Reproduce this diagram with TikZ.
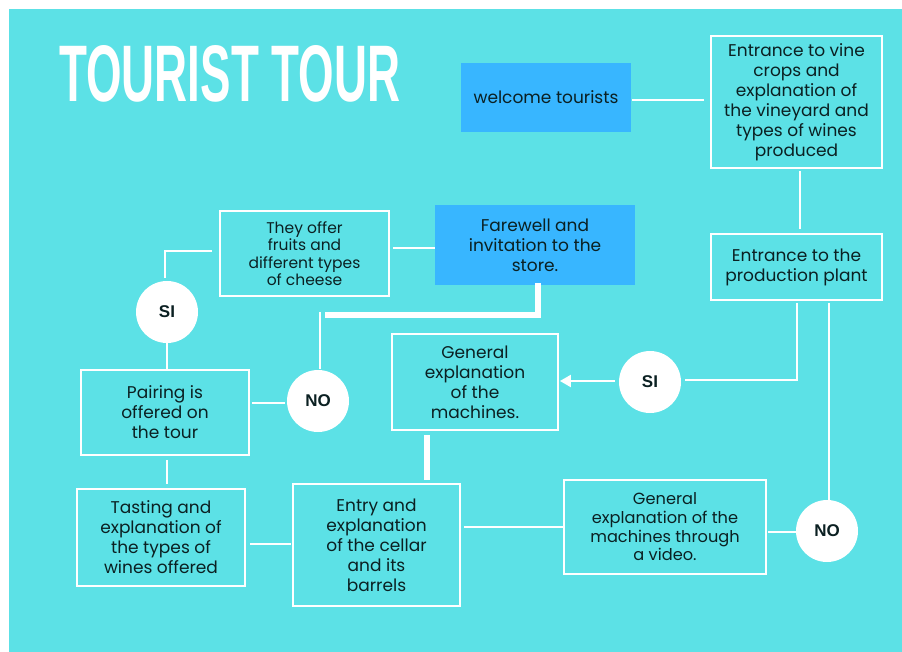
\documentclass[tikz,border=0pt]{standalone}
\usepackage{fontspec}
\usepackage{graphicx}
\setmainfont{Poppins}
\newfontfamily\arialfont{Liberation Sans}
\usetikzlibrary{arrows.meta,calc}
\definecolor{bgcyan}{HTML}{5CE1E6}
\definecolor{boxblue}{HTML}{38B6FF}
\definecolor{ink}{HTML}{0B2022}
\begin{document}
\begin{tikzpicture}[x=1pt,y=-1pt,
  flowbox/.style={draw=white,line width=1.8pt,inner sep=0pt,align=center,text=ink,
    font=\fontsize{17}{20}\selectfont},
  bluebox/.style={fill=boxblue,inner sep=0pt,align=center,text=ink,
    font=\fontsize{17}{20}\selectfont},
  decision/.style={circle,fill=white,minimum size=62pt,inner sep=0pt,text=ink,
    font=\arialfont\bfseries\fontsize{17}{17}\selectfont},
  link/.style={white,line width=2pt},
  thicklink/.style={white,line width=6pt}]
\useasboundingbox (0,0) rectangle (902,652);
\fill[white] (0,0) rectangle (902,652);
\fill[bgcyan] (9,9) rectangle (902,652);

\node[anchor=north west,inner sep=0pt,text=white] (title) at (59,45)
  {\resizebox{341pt}{56pt}{\arialfont\bfseries TOURIST TOUR}};

% boxes
\node[bluebox,minimum width=170pt,minimum height=69pt] (welcome) at (546,97.5) {welcome tourists};
\node[flowbox,minimum width=171pt,minimum height=132pt] (vine) at (796.5,102)
  {Entrance to vine\\crops and\\explanation of\\the vineyard and\\types of wines\\produced};
\node[flowbox,minimum width=171pt,minimum height=66pt] (plant) at (796.5,267)
  {Entrance to the\\production plant};
\node[bluebox,minimum width=200pt,minimum height=80pt] (farewell) at (535,245)
  {Farewell and\\invitation to the\\store.};
\node[flowbox,minimum width=169pt,minimum height=85pt,font=\fontsize{15.5}{17.5}\selectfont] (offer) at (304.5,253.5)
  {They offer\\fruits and\\different types\\of cheese};
\node[flowbox,minimum width=168pt,minimum height=85pt] (pairing) at (165,412.5)
  {Pairing is\\offered on\\the tour};
\node[flowbox,minimum width=168pt,minimum height=97pt] (tasting) at (161,537.5)
  {Tasting and\\explanation of\\the types of\\wines offered};
\node[flowbox,minimum width=167pt,minimum height=122pt] (entry) at (376.5,545)
  {Entry and\\explanation\\of the cellar\\and its\\barrels};
\node[flowbox,minimum width=166pt,minimum height=96pt] (general) at (475,382)
  {General\\explanation\\of the\\machines.};
\node[flowbox,minimum width=202pt,minimum height=94pt,font=\fontsize{16.2}{18.7}\selectfont] (video) at (665,527)
  {General\\explanation of the\\machines through\\a video.};

% connectors (drawn before the circles)
\draw[link] ([shift={(1,2.5)}]welcome.east) -- ([shift={(-6,-2)}]vine.west);
\draw[link] ([shift={(3.5,2)}]vine.south) -- ([shift={(3.5,-4)}]plant.north);
\draw[link] ([shift={(3,-5.5)}]offer.east) -- ([shift={(0,3)}]farewell.west);
\draw[link] ([shift={(4,6.5)}]tasting.east) -- ([shift={(-1,-1)}]entry.west);
\draw[link] ([shift={(3,-18)}]entry.east) -- (video.west);
\draw[link] ([shift={(2,4)}]pairing.south) -- ([shift={(6,-4)}]tasting.north);
\draw[thicklink] ([shift={(-48,4)}]general.south) -- ($(general.south |- entry.north)+(-48,-3)$);

\node[decision] (si1) at (167,312) {SI};
\node[decision] (no1) at (318,401) {NO};
\node[decision] (si2) at (650,382) {SI};
\node[decision] (no2) at (827,531) {NO};
\coordinate (j1) at (320,315);

\draw[link] ([shift={(-7,-2.5)}]offer.west) -| ([shift={(-2,-3)}]si1.north);
\draw[link] (si1.south) -- (si1.south |- pairing.north);
\draw[link] ([shift={(2,-9.5)}]pairing.east) -- ([shift={(-2,2)}]no1.west);
\draw[link] ([shift={(2,-1)}]no1.north) -- ([shift={(0,-3)}]j1);
\draw[thicklink] ([shift={(5,0)}]j1) -| ([shift={(3,-2)}]farewell.south);
\draw[link,-{Triangle[length=11pt,width=12pt]}] ([shift={(-4,-1)}]si2.west) -- ([shift={(1,-1)}]general.east);
\draw[link] ([shift={(0.5,2)}]plant.south) |- ([shift={(4,-2)}]si2.east);
\draw[link] ([shift={(32.5,2)}]plant.south) -- ([shift={(2,1)}]no2.north);
\draw[link] ([shift={(1,5)}]video.east) -- ([shift={(0,1)}]no2.west);
\end{tikzpicture}
\end{document}
